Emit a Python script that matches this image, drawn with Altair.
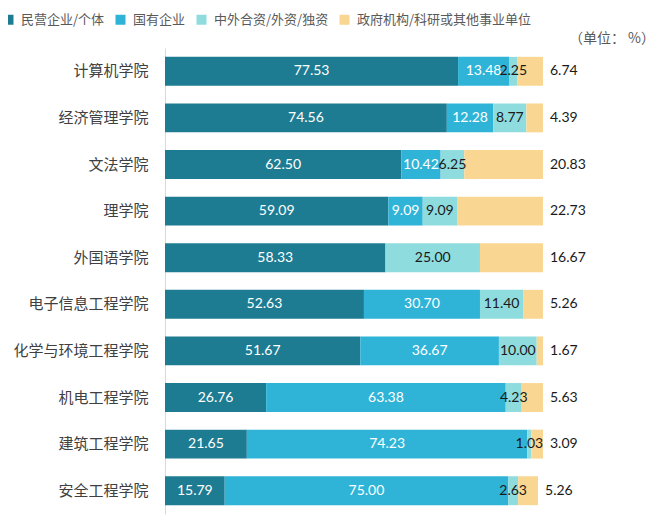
import altair as alt
import pandas as pd

colleges = ["计算机学院", "经济管理学院", "文法学院", "理学院", "外国语学院",
            "电子信息工程学院", "化学与环境工程学院", "机电工程学院", "建筑工程学院", "安全工程学院"]
series = ["民营企业/个体", "国有企业", "中外合资/外资/独资", "政府机构/科研或其他事业单位"]
private = [77.53, 74.56, 62.50, 59.09, 58.33, 52.63, 51.67, 26.76, 21.65, 15.79]
state = [13.48, 12.28, 10.42, 9.09, 0.00, 30.70, 36.67, 63.38, 74.23, 75.00]
foreign = [2.25, 8.77, 6.25, 9.09, 25.00, 11.40, 10.00, 4.23, 1.03, 2.63]
gov = [6.74, 4.39, 20.83, 22.73, 16.67, 5.26, 1.67, 5.63, 3.09, 5.26]
colors = ["#1e7c92", "#2fb4d8", "#8fdcdf", "#f9d692"]

rows = []
for k, vals in enumerate([private, state, foreign, gov]):
    for c, v in zip(colleges, vals):
        rows.append({"college": c, "series": series[k], "k": k, "value": v})
df = pd.DataFrame(rows)

CJK = "Noto Sans CJK SC"
NUM = "Lato"

base = alt.Chart(df).transform_stack(
    stack="value", groupby=["college"], as_=["x0", "x1"], sort=[{"field": "k", "order": "ascending"}]
)

yenc = alt.Y("college:N", sort=colleges, title=None,
             scale=alt.Scale(paddingInner=0.38, paddingOuter=0.19),
             axis=alt.Axis(domainColor="#d9d9d9", domainWidth=1, ticks=False, labelPadding=17,
                           labelFontSize=15, labelColor="#404040", labelFont=CJK))
xscale = alt.Scale(domain=[0, 100], nice=False, zero=True)

bars = base.mark_bar().encode(
    y=yenc,
    x=alt.X("x0:Q", scale=xscale, axis=None),
    x2="x1:Q",
    color=alt.Color("series:N", sort=series,
                    scale=alt.Scale(domain=series, range=colors),
                    legend=alt.Legend(title=None, orient="none", legendX=-163, legendY=-35,
                                      direction="horizontal", columns=4, symbolType="square",
                                      symbolSize=100, symbolStrokeWidth=0, labelFont=CJK,
                                      labelFontSize=13, labelColor="#595959", labelOffset=6,
                                      columnPadding=9, padding=0, labelLimit=300)),
)

inside = base.transform_filter("datum.k < 3 && datum.value > 0").transform_calculate(
    mid="(datum.x0 + datum.x1) / 2"
).mark_text(font=NUM, fontSize=14, baseline="middle", align="center").encode(
    y=alt.Y("college:N", sort=colleges),
    x=alt.X("mid:Q", scale=xscale),
    text=alt.Text("value:Q", format=".2f"),
    color=alt.condition("datum.k < 2", alt.value("white"), alt.value("#1a1a1a")),
)

outside = base.transform_filter("datum.k == 3").mark_text(
    font=NUM, fontSize=14, baseline="middle", align="left", dx=7, color="#1a1a1a"
).encode(
    y=alt.Y("college:N", sort=colleges),
    x=alt.X("x1:Q", scale=xscale),
    text=alt.Text("value:Q", format=".2f"),
)

unit = alt.Chart(pd.DataFrame({"t": ["（单位： %）"]})).mark_text(
    font=CJK, fontSize=14, color="#595959", align="right", baseline="middle"
).encode(x=alt.value(490), y=alt.value(-9), text="t:N")

chart = alt.layer(bars, inside, outside, unit).properties(
    width=378, height=466,
    autosize=alt.AutoSizeParams(type="none"),
    padding={"left": 157, "top": 40, "right": 113, "bottom": 1},
).configure_view(stroke=None)

chart.save("out.html", embed_options={"renderer": "svg", "actions": False})
